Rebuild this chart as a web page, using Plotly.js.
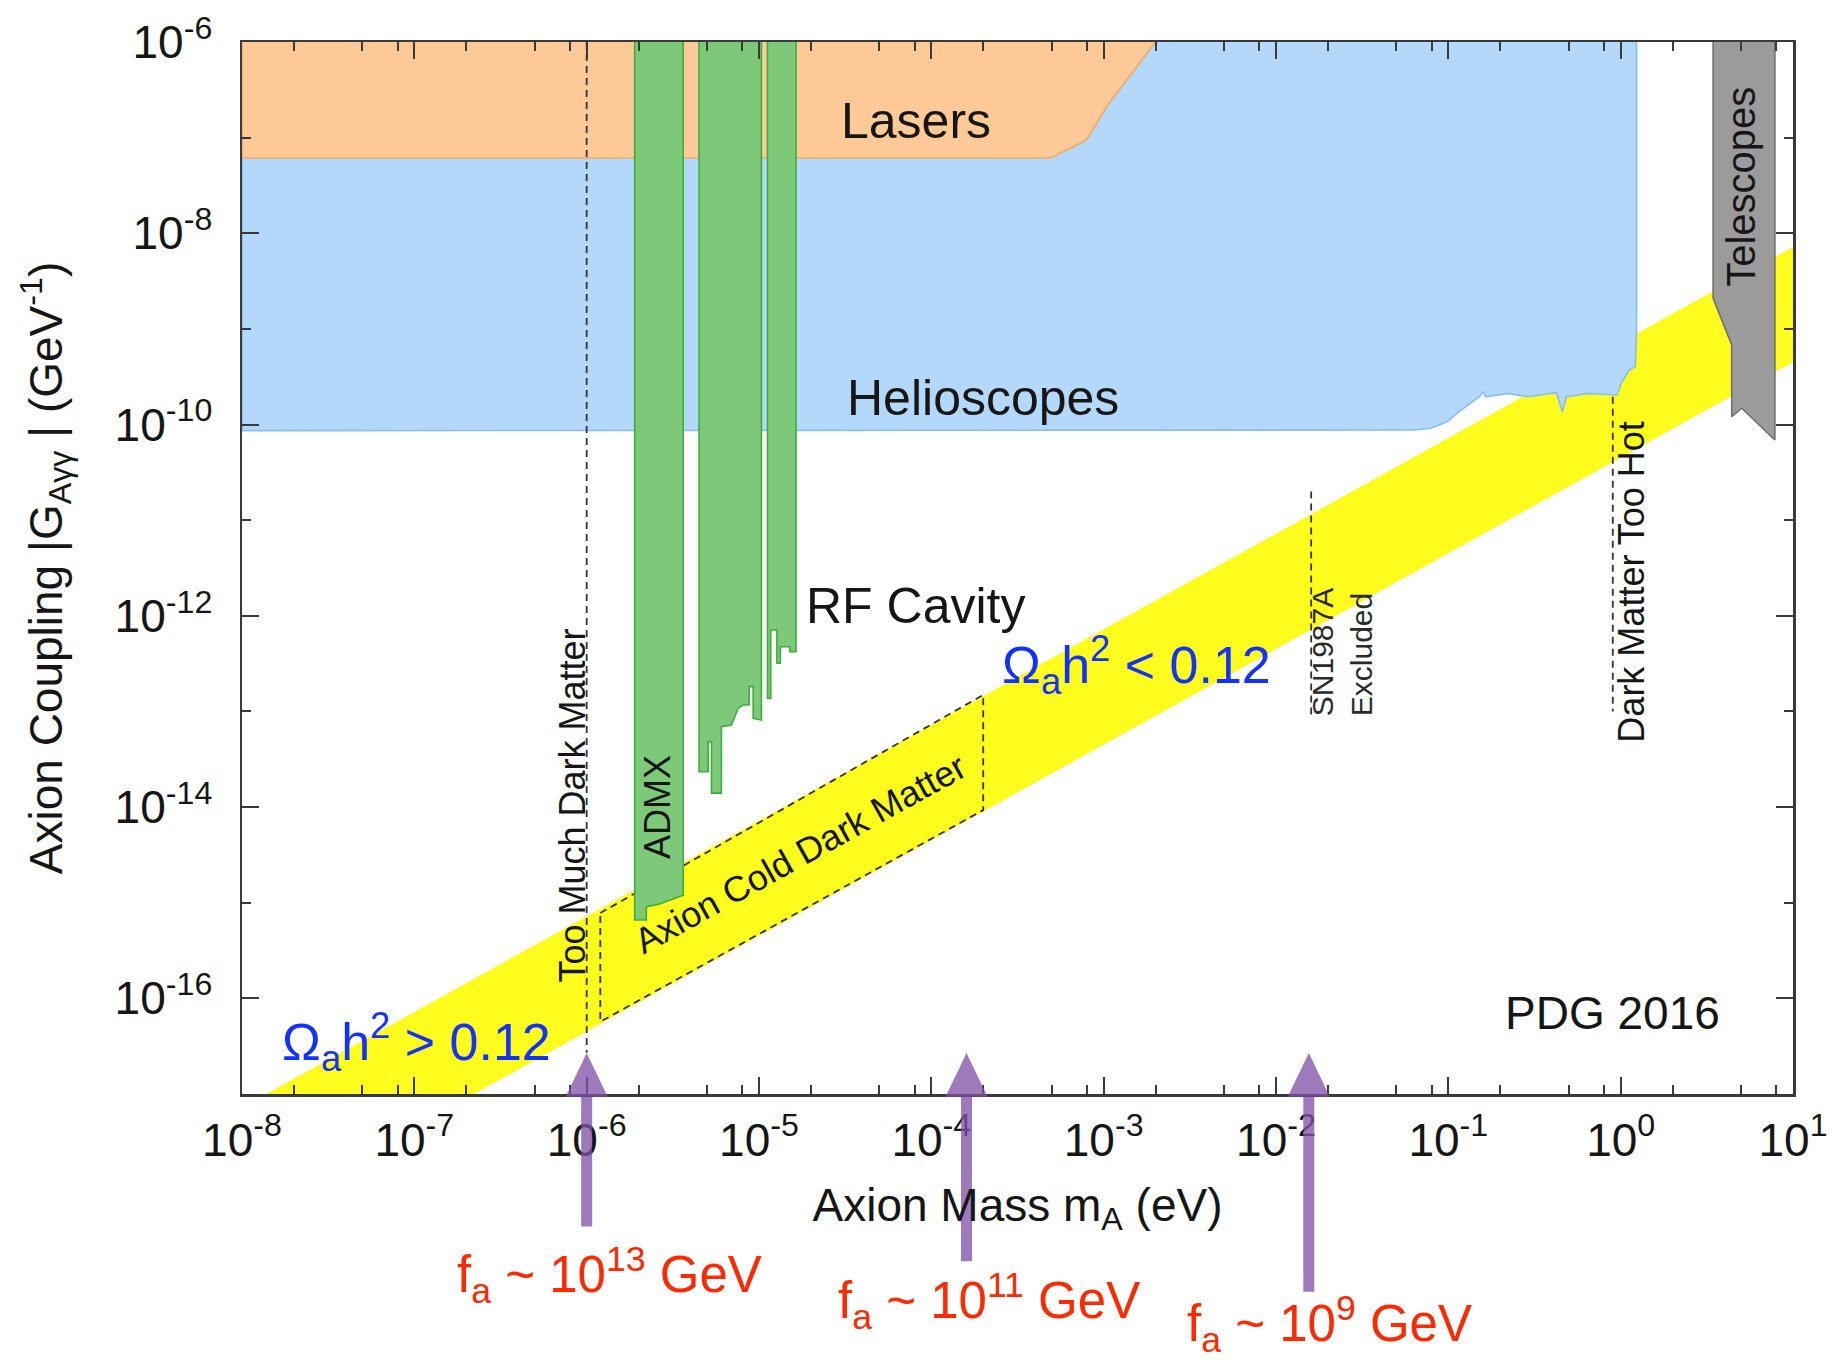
<!DOCTYPE html>
<html>
<head>
<meta charset="utf-8">
<script src="https://cdn.plot.ly/plotly-3.0.1.min.js"></script>
<style>
  html, body { margin: 0; padding: 0; background: #ffffff; }
  #plot { width: 1835px; height: 1365px; }
</style>
</head>
<body>
<div id="plot"></div>
<script>
// ---------- axis ticks ----------
const massTickVals = [1e-8, 1e-7, 1e-6, 1e-5, 1e-4, 1e-3, 1e-2, 1e-1, 1, 10];
const massTickText = ['10<sup>-8</sup>', '10<sup>-7</sup>', '10<sup>-6</sup>', '10<sup>-5</sup>',
  '10<sup>-4</sup>', '10<sup>-3</sup>', '10<sup>-2</sup>', '10<sup>-1</sup>', '10<sup>0</sup>', '10<sup>1</sup>'];
const massMinorSteps = [2, 5, 8];
const couplingTickVals = [1e-6, 1e-8, 1e-10, 1e-12, 1e-14, 1e-16];
const couplingTickText = ['10<sup>-6</sup>', '10<sup>-8</sup>', '10<sup>-10</sup>', '10<sup>-12</sup>',
  '10<sup>-14</sup>', '10<sup>-16</sup>'];
const couplingMinorTicks = [1e-7, 1e-9, 1e-11, 1e-13, 1e-15];

// ---------- excluded / preferred regions (mass in eV, coupling in GeV^-1) ----------
// QCD axion band
const bandMass = [1e-8, 10];
const bandUpper = [7.2e-18, 7.2e-9];
const bandLower = [4.5e-19, 4.5e-10];

// Axion cold dark matter window (dashed box inside the band)
const cdmMass = [1.2e-6, 2.0e-4, 2.0e-4, 1.2e-6, 1.2e-6];
const cdmCoupling = [7.8e-16, 1.49e-13, 9.3e-15, 5.7e-17, 7.8e-16];

// Helioscopes
const helioMass = [1e-8, 1e-8, 0.0637, 0.0791, 0.0982, 0.115, 0.151, 0.160, 0.164, 0.221, 0.290,
  0.424, 0.459, 0.484, 0.653, 0.955, 1.007, 1.122, 1.216, 1.236, 1.236];
const helioCoupling = [1e-6, 8.63e-11, 8.77e-11, 9.14e-11, 1.07e-10, 1.36e-10, 1.95e-10, 2.21e-10,
  1.95e-10, 2.12e-10, 1.95e-10, 2.15e-10, 1.36e-10, 1.95e-10, 2.12e-10, 2.04e-10, 2.70e-10,
  3.72e-10, 4.03e-10, 9.06e-10, 1e-6];

// Laser experiments
const laserMass = [1e-8, 1e-8, 4.93e-4, 7.94e-4, 1.04e-3, 2.0e-3];
const laserCoupling = [1e-6, 6.12e-8, 6.12e-8, 9.44e-8, 2.10e-7, 1e-6];

// RF cavity searches
const admxMass = [1.90e-6, 1.90e-6, 2.22e-6, 2.22e-6, 2.65e-6, 2.95e-6, 3.29e-6, 3.63e-6, 3.63e-6];
const admxCoupling = [1e-6, 6.6e-16, 6.6e-16, 9.1e-16, 9.7e-16, 1.04e-15, 1.11e-15, 1.20e-15, 1e-6];

const cavity2Mass = [4.49e-6, 4.49e-6, 5.07e-6, 5.07e-6, 5.30e-6, 5.30e-6, 6.05e-6, 6.05e-6, 6.92e-6,
  7.24e-6, 7.57e-6, 8.09e-6, 8.77e-6, 8.77e-6, 9.25e-6, 9.25e-6, 1.033e-5, 1.033e-5];
const cavity2Coupling = [1e-6, 2.34e-14, 2.34e-14, 4.83e-14, 4.83e-14, 1.40e-14, 1.40e-14, 6.93e-14,
  7.23e-14, 8.81e-14, 1.08e-13, 1.17e-13, 1.17e-13, 1.82e-13, 1.82e-13, 8.49e-14, 8.15e-14, 1e-6];

const cavity3Mass = [1.12e-5, 1.12e-5, 1.17e-5, 1.17e-5, 1.27e-5, 1.27e-5, 1.33e-5, 1.33e-5,
  1.51e-5, 1.51e-5, 1.64e-5, 1.64e-5];
const cavity3Coupling = [1e-6, 1.37e-13, 1.37e-13, 7.11e-13, 7.11e-13, 3.19e-13, 3.19e-13, 4.75e-13,
  4.75e-13, 4.22e-13, 4.22e-13, 1e-6];

// Telescopes
const telescopeMass = [3.44, 3.44, 4.41, 4.41, 5.04, 7.85, 7.85];
const telescopeCoupling = [1e-6, 2.09e-9, 6.79e-10, 1.21e-10, 1.48e-10, 6.90e-11, 1e-6];

// Vertical boundaries
const tooMuchDMMass = [1e-6, 1e-6];
const tooMuchDMCoupling = [1e-6, 2.7e-17];
const sn1987aMass = [0.016, 0.016];
const sn1987aCoupling = [1.99e-11, 9.2e-14];
const tooHotMass = [0.90, 0.90];
const tooHotCoupling = [1.95e-10, 1.0e-13];

// Decay constants marked below the mass axis
const arrowMass = [1e-6, 1.6e-4, 1.55e-2];
const arrowLabels = ['f<sub>a</sub> ~ 10<sup>13</sup> GeV', 'f<sub>a</sub> ~ 10<sup>11</sup> GeV',
  'f<sub>a</sub> ~ 10<sup>9</sup> GeV'];

// ---------- styling ----------
const FONT = '"Liberation Sans", Arial, Helvetica, sans-serif';
const INK = '#161616';
const AXIS = '#3a3a3a';

function region(x, y, fill, edge) {
  return {
    type: 'scatter', mode: 'lines', x: x, y: y, fill: 'toself', fillcolor: fill,
    line: { color: edge, width: 1.6 }, hoverinfo: 'skip', showlegend: false
  };
}
function dashed(x, y) {
  return {
    type: 'scatter', mode: 'lines', x: x, y: y,
    line: { color: '#333333', width: 1.8, dash: '7px,5px' }, hoverinfo: 'skip', showlegend: false
  };
}

const traces = [
  region(bandMass.concat(bandMass.slice().reverse()),
         bandUpper.concat(bandLower.slice().reverse()), '#FFFC1E', 'rgba(0,0,0,0)'),
  dashed(cdmMass, cdmCoupling),
  region(helioMass, helioCoupling, '#B3D8FA', '#86BDF2'),
  region(laserMass, laserCoupling, '#FDC997', '#F5A866'),
  region(admxMass, admxCoupling, '#7EC87A', '#3DAE3D'),
  region(cavity2Mass, cavity2Coupling, '#7EC87A', '#3DAE3D'),
  region(cavity3Mass, cavity3Coupling, '#7EC87A', '#3DAE3D'),
  region(telescopeMass, telescopeCoupling, '#9B9B9B', '#707070'),
  dashed(tooMuchDMMass, tooMuchDMCoupling),
  dashed(sn1987aMass, sn1987aCoupling),
  dashed(tooHotMass, tooHotCoupling)
];

// minor mass ticks at 2, 5, 8 within each decade
const massMinorTicks = [];
massTickVals.slice(0, -1).forEach(d => massMinorSteps.forEach(s => massMinorTicks.push(d * s)));

// ---------- labels ----------
function label(text, m, g, size, extra) {
  return Object.assign({
    xref: 'x', yref: 'y', x: Math.log10(m), y: Math.log10(g), text: text, showarrow: false,
    font: { family: FONT, size: size, color: INK }
  }, extra || {});
}

const annotations = [
  label('Lasers', 2.9e-5, 1.51e-7, 50, { xanchor: 'left' }),
  label('Helioscopes', 3.14e-5, 1.9e-10, 50, { xanchor: 'left' }),
  label('RF Cavity', 1.82e-5, 1.27e-12, 50, { xanchor: 'left' }),
  label('ADMX', 2.58e-6, 9.9e-15, 36, { textangle: -90 }),
  label('Too Much Dark Matter', 8.3e-7, 1.03e-14, 36, { textangle: -90 }),
  label('Axion Cold Dark Matter', 1.74e-5, 3.3e-15, 36, { textangle: -29 }),
  label('SN1987A<br>Excluded', 0.0244, 4.14e-13, 30, { textangle: -90, align: 'left',
    font: { family: FONT, size: 30, color: '#2a2a2a' } }),
  label('Dark Matter Too Hot', 1.15, 2.23e-12, 36, { textangle: -90 }),
  label('Telescopes', 4.98, 3.05e-8, 40, { textangle: -90 }),
  label('PDG 2016', 0.90, 6.95e-17, 46),
  label('Ω<sub>a</sub>h<sup>2</sup> &gt; 0.12', 1.03e-7, 3.54e-17, 52,
    { font: { family: FONT, size: 52, color: '#1432FF' } }),
  label('Ω<sub>a</sub>h<sup>2</sup> &lt; 0.12', 1.56e-3, 3.08e-13, 52,
    { font: { family: FONT, size: 52, color: '#1432FF' } })
];

// f_a labels under the mass axis
const arrowLabelMass = [1.35e-6, 2.16e-4, 0.0204];
const arrowLabelY = [-0.172, -0.197, -0.219];
arrowLabels.forEach((t, i) => {
  annotations.push({
    xref: 'x', yref: 'paper', x: Math.log10(arrowLabelMass[i]), y: arrowLabelY[i],
    yanchor: 'middle', text: t, showarrow: false,
    font: { family: FONT, size: 51, color: '#FF2A00' }
  });
});

// purple arrows pointing at the masses
const arrowTip = 0.039, arrowBase = -0.0025;
const arrowTail = [-0.126, -0.159, -0.188];
const ARROW_FILL = 'rgba(128,80,168,0.76)';
const shapes = [];
arrowMass.forEach((m, i) => {
  shapes.push({
    type: 'path', xref: 'x', yref: 'paper', xsizemode: 'pixel', xanchor: m,
    path: `M -21,${arrowBase} L 0,${arrowTip} L 21,${arrowBase} Z`,
    fillcolor: ARROW_FILL, line: { width: 0 }
  });
  shapes.push({
    type: 'path', xref: 'x', yref: 'paper', xsizemode: 'pixel', xanchor: m,
    path: `M -5.5,${arrowTail[i]} L 5.5,${arrowTail[i]} L 5.5,${arrowBase} L -5.5,${arrowBase} Z`,
    fillcolor: ARROW_FILL, line: { width: 0 }
  });
});

const axisCommon = {
  type: 'log', tickmode: 'array', ticks: 'inside', ticklen: 17, tickwidth: 2, tickcolor: AXIS,
  showline: true, linewidth: 2.5, linecolor: AXIS, mirror: 'ticks',
  showgrid: false, zeroline: false, automargin: false,
  tickfont: { family: FONT, size: 46, color: INK }
};

const layout = {
  width: 1835, height: 1365,
  margin: { l: 242, r: 42, t: 42, b: 271 },
  paper_bgcolor: '#ffffff', plot_bgcolor: '#ffffff',
  showlegend: false,
  font: { family: FONT, color: INK },
  xaxis: Object.assign({}, axisCommon, {
    range: [-8, 1], tickvals: massTickVals, ticktext: massTickText,
    minor: { tickmode: 'array', tickvals: massMinorTicks, ticks: 'inside', ticklen: 9,
      tickwidth: 2, tickcolor: AXIS, showgrid: false },
    ticklabelstandoff: 4,
    title: { text: 'Axion Mass m<sub>A</sub> (eV)', font: { family: FONT, size: 46, color: INK }, standoff: 24 }
  }),
  yaxis: Object.assign({}, axisCommon, {
    range: [-17, -6], tickvals: couplingTickVals, ticktext: couplingTickText,
    minor: { tickmode: 'array', tickvals: couplingMinorTicks, ticks: 'inside', ticklen: 9,
      tickwidth: 2, tickcolor: AXIS, showgrid: false },
    ticklabelstandoff: 18,
    title: { text: 'Axion Coupling |G<sub>Aγγ</sub> | (GeV<sup>-1</sup>)',
      font: { family: FONT, size: 46, color: INK }, standoff: 38 }
  }),
  annotations: annotations,
  shapes: shapes
};

Plotly.newPlot('plot', traces, layout, { displayModeBar: false, staticPlot: true });
</script>
</body>
</html>
